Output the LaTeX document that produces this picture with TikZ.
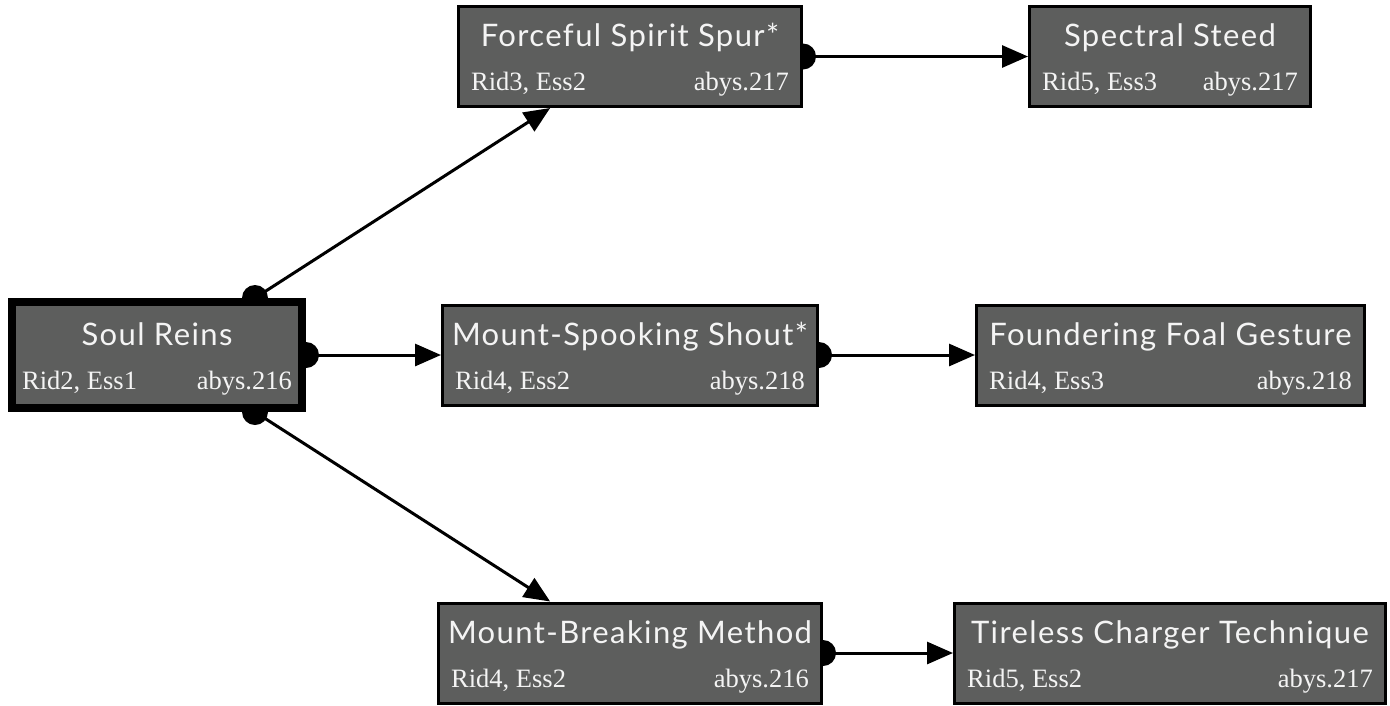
\documentclass[tikz,border=0pt]{standalone}
\usepackage{fontspec}
\setmainfont{Liberation Serif}
\newfontfamily\titlefont[LetterSpace=4.5]{Lato}
\usetikzlibrary{arrows.meta,calc}
\definecolor{boxgray}{HTML}{5D5E5D}
\definecolor{boxtext}{HTML}{F4F4F4}
\tikzset{
  card/.style={draw=black, fill=boxgray, line width=3pt, minimum height=100pt, inner sep=0pt},
  rootcard/.style={card, line width=8pt, minimum height=106pt},
  cardtitle/.style={anchor=base, text=boxtext, inner sep=0pt, font=\titlefont\fontsize{31}{34}\selectfont},
  cardleft/.style={anchor=base west, text=boxtext, inner sep=0pt, font=\fontsize{26.5}{29}\selectfont},
  cardright/.style={anchor=base east, text=boxtext, inner sep=0pt, font=\fontsize{26.5}{29}\selectfont},
  link/.style={line width=3pt, -{Triangle[length=26pt,width=22pt]}},
  port/.style={fill=black},
}
% title and the two notes of a card
\newcommand{\cardtext}[4]{%
  \node[cardtitle] (#1-t) at ([yshift=10pt]#1.center) {#2};
  \node[cardleft] (#1-l) at ([xshift=14pt,yshift=-34pt]#1.west) {#3};
  \node[cardright] (#1-r) at ([xshift=-14pt,yshift=-34pt]#1.east) {#4};
}
\begin{document}
\begin{tikzpicture}[x=1pt,y=-1pt]
\fill[white] (0,0) rectangle (1390,705);
\useasboundingbox (0,0) rectangle (1390,705);

% boxes placed first as empty shapes so that edges can refer to them
\path
  (157,355) node[rootcard, minimum width=290pt] (soul) {}
  (630,56.5) node[card, minimum width=343pt] (spur) {}
  (1170,56.5) node[card, minimum width=281pt] (steed) {}
  (630,355) node[card, minimum width=375pt] (shout) {}
  (1170.5,355) node[card, minimum width=388pt] (foal) {}
  (630,653) node[card, minimum width=383pt] (method) {}
  (1170,653) node[card, minimum width=431pt] (charger) {};

% tail ports
\coordinate (p1) at ([xshift=98pt]soul.north);
\coordinate (p2) at (soul.east);
\coordinate (p3) at ([xshift=98pt]soul.south);
\coordinate (p4) at (spur.east);
\coordinate (p5) at (shout.east);
\coordinate (p6) at (method.east);

% connectors
\draw[link] (p1) -- (spur);
\draw[link] (p2) -- (shout);
\draw[link] (p3) -- (method);
\draw[link] (p4) -- (steed);
\draw[link] (p5) -- (foal);
\draw[link] (p6) -- (charger);
\foreach \p in {p1,p2,p3,p4,p5,p6} \fill[port] (\p) circle (13pt);

% boxes redrawn on top of the ports
\path
  (157,355) node[rootcard, minimum width=290pt] {}
  (630,56.5) node[card, minimum width=343pt] {}
  (1170,56.5) node[card, minimum width=281pt] {}
  (630,355) node[card, minimum width=375pt] {}
  (1170.5,355) node[card, minimum width=388pt] {}
  (630,653) node[card, minimum width=383pt] {}
  (1170,653) node[card, minimum width=431pt] {};

\cardtext{soul}{Soul Reins}{Rid2, Ess1}{abys.216}
\cardtext{spur}{Forceful Spirit Spur*}{Rid3, Ess2}{abys.217}
\cardtext{steed}{Spectral Steed}{Rid5, Ess3}{abys.217}
\cardtext{shout}{Mount-Spooking Shout*}{Rid4, Ess2}{abys.218}
\cardtext{foal}{Foundering Foal Gesture}{Rid4, Ess3}{abys.218}
\cardtext{method}{Mount-Breaking Method}{Rid4, Ess2}{abys.216}
\cardtext{charger}{Tireless Charger Technique}{Rid5, Ess2}{abys.217}
\end{tikzpicture}
\end{document}
